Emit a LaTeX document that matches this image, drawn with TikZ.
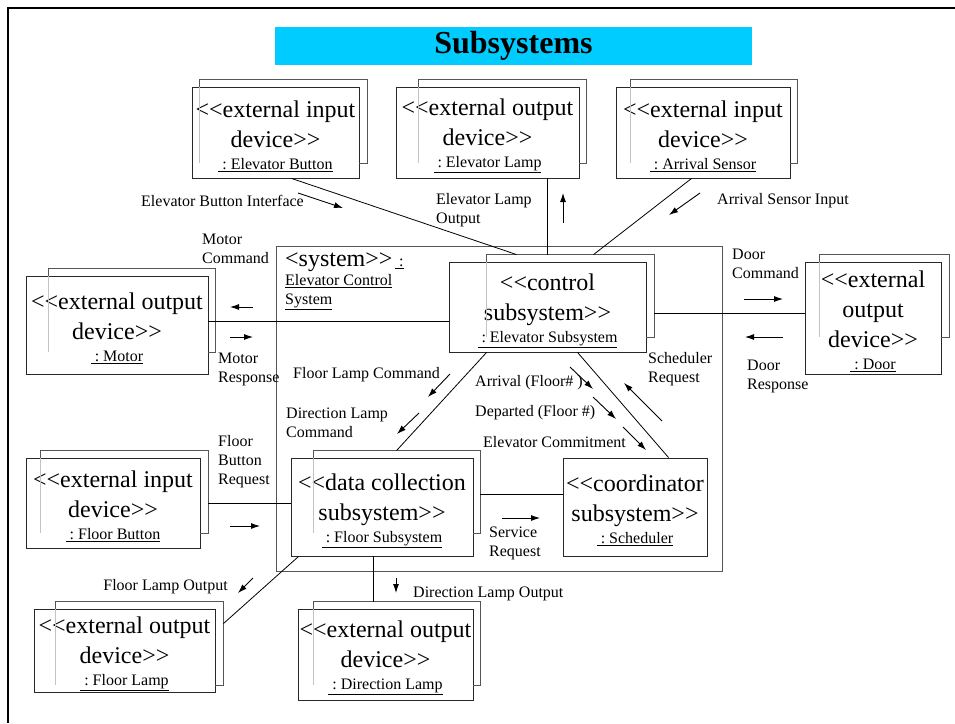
\documentclass[tikz,border=0pt]{standalone}
\usepackage{fontspec}
\setmainfont{Liberation Serif}
\usepackage{tikz}
\usetikzlibrary{arrows.meta, positioning, calc}
\definecolor{mycyan}{RGB}{0,204,255}
\definecolor{mydark}{RGB}{40,40,40}
\definecolor{mygray}{RGB}{85,85,85}
\definecolor{mylight}{RGB}{195,195,195}
\newcommand{\stereoL}{\rule{0pt}{24pt}<{}<}
\newcommand{\stereoR}{>{}>}
\newcommand{\boxfont}{\fontsize{24}{30}\selectfont}
\newcommand{\lblfont}{\fontsize{16}{19}\selectfont}
\newcommand{\objname}[1]{\\[-8pt]{\lblfont\underline{~:~#1}}}
% back sheet of a multi-object box: node, left shift, right shift, bottom lift
\newcommand{\devback}[4]{%
  \draw[backline] ($(#1.north west)+(#2,0)$) -- ($(#1.north west)+(#2,-7)$)
    -- ($(#1.north east)+(#3,-7)$) -- ($(#1.south east)+(#3,-#4)$)
    -- ($(#1.south east)+(0,-#4)$);
  \draw[innerline] ($(#1.north west)+(#2,0)$) -- ($(#1.south west)+(#2,-#4)$);
}
\tikzset{
  dev/.style={rectangle, draw=mydark, line width=0.9pt, align=center,
    inner sep=0pt, font=\boxfont},
  sysbox/.style={rectangle, draw=mygray, line width=0.9pt, inner sep=0pt},
  titlebar/.style={rectangle, fill=mycyan, minimum width=477, minimum height=38,
    font=\fontsize{32}{36}\selectfont\bfseries},
  backline/.style={draw=mygray, line width=0.9pt},
  innerline/.style={draw=mylight, line width=0.6pt},
  link/.style={draw=black, line width=0.8pt},
  sig/.style={-{Latex[length=9pt,width=6pt]}, line width=0.9pt, color=black},
  lbl/.style={inner sep=0pt, align=left, font=\lblfont},
  frame/.style={line width=2.5pt, color=black}
}
\begin{document}
\begin{tikzpicture}[x=1pt, y=-1pt]
  \useasboundingbox (0,0) rectangle (955,723);
  % Frame and title
  \draw[frame] (955,8) -- (8,8) -- (8,723);
  \node[titlebar] (title) at (513.5,46) {Subsystems};

  % System boundary
  \node[sysbox, minimum width=446, minimum height=325] (sys) at (499,408.5) {};
  \node[lbl, anchor=north west] (systag) at (285,253) {{\boxfont <system\stereoR}\,\underline{~:}};
  \node[lbl, anchor=north west] (sysname) at (285,274) {\underline{Elevator Control}\\\underline{System}};

  % Devices and subsystems
  \node[dev, minimum width=167, minimum height=91] (btn) at (275.5,132.5)
    {\stereoL external input\\device\stereoR\objname{Elevator Button}};
  \node[dev, minimum width=183, minimum height=91] (lamp) at (487.5,132.5)
    {\stereoL external output\\device\stereoR\objname{Elevator Lamp}};
  \node[dev, minimum width=174, minimum height=91] (arrsens) at (703,132.5)
    {\stereoL external input\\device\stereoR\objname{Arrival Sensor}};
  \node[dev, minimum width=182, minimum height=98] (motor) at (117,325)
    {\stereoL external output\\device\stereoR\objname{Motor}};
  \node[dev, minimum width=197, minimum height=90] (ctrl) at (547.5,307)
    {\stereoL control\\subsystem\stereoR\objname{Elevator Subsystem}};
  \node[dev, minimum width=136, minimum height=112] (door) at (873,318)
    {\stereoL external\\output\\device\stereoR\objname{Door}};
  \node[dev, minimum width=174, minimum height=90] (fbtn) at (113,503)
    {\stereoL external input\\device\stereoR\objname{Floor Button}};
  \node[dev, minimum width=182, minimum height=98] (data) at (382,507)
    {\stereoL data collection\\subsystem\stereoR\objname{Floor Subsystem}};
  \node[dev, minimum width=144, minimum height=98] (coord) at (635,507)
    {\stereoL coordinator\\subsystem\stereoR\objname{Scheduler}};
  \node[dev, minimum width=181, minimum height=83] (flamp) at (124.5,650.5)
    {\stereoL external output\\device\stereoR\objname{Floor Lamp}};
  \node[dev, minimum width=175, minimum height=91] (dlamp) at (385.5,654.5)
    {\stereoL external output\\device\stereoR\objname{Direction Lamp}};

  % Back sheets
  \devback{btn}{8}{8}{15}
  \devback{lamp}{23}{7}{15}
  \devback{arrsens}{15}{7}{15}
  \devback{motor}{23}{7}{22}
  \devback{ctrl}{38}{8}{15}
  \devback{door}{15}{8}{37}
  \devback{fbtn}{15}{8}{15}
  \devback{data}{23}{7}{23}
  \devback{flamp}{22}{8}{7}
  \devback{dlamp}{16}{7}{15}

  % Links
  \draw[link] ($(btn.south west)+(100,0)$) -- ($(ctrl.north west)+(68,-7)$);
  \draw[link] ($(lamp.south west)+(152,0)$) -- ($(ctrl.north west)+(99,-7)$);
  \draw[link] ($(arrsens.south west)+(76,0)$) -- ($(ctrl.north west)+(145,-7)$);
  \draw[link] ($(motor.north east)+(0,46)$) coordinate (mo) -- (mo -| ctrl.west);
  \draw[link] ($(ctrl.north east)+(8,52)$) coordinate (dr) -- (dr -| door.west);
  \draw[link] ($(fbtn.east)+(8,0)$) coordinate (fb) -- (fb -| data.west);
  \draw[link] ($(ctrl.south west)+(38,0)$) -- ($(data.north west)+(106,-7)$);
  \draw[link] ($(ctrl.south west)+(129,0)$) -- ($(coord.north west)+(106,0)$);
  \draw[link] ($(data.north east)+(7,37)$) coordinate (dc) -- (dc -| coord.west);
  \draw[link] ($(data.south west)+(8,0)$) -- ($(flamp.north east)+(8,15)$);
  \draw[link] ($(data.south west)+(83,0)$) -- ($(dlamp.north west)+(76,-7)$);

  % Message labels
  \node[lbl, anchor=east] (lbif) at (304,201) {Elevator Button Interface};
  \node[lbl, anchor=west] (llout) at (436,210.5) {Elevator Lamp\\Output};
  \node[lbl, anchor=west] (lasin) at (717,201) {Arrival Sensor Input};
  \node[lbl, anchor=west] (lmcmd) at (202,248.5) {Motor\\Command};
  \node[lbl, anchor=west] (lmrsp) at (218,369.5) {Motor\\Response};
  \node[lbl, anchor=west] (lflcmd) at (293,375) {Floor Lamp Command};
  \node[lbl, anchor=west] (ldlcmd) at (286,422.5) {Direction Lamp\\Command};
  \node[lbl, anchor=west] (lfbreq) at (218,461.5) {Floor\\Button\\Request};
  \node[lbl, anchor=west] (larr) at (475,383) {Arrival (Floor\# )};
  \node[lbl, anchor=west] (ldep) at (475,413) {Departed (Floor \#)};
  \node[lbl, anchor=west] (lcommit) at (483,442) {Elevator Commitment};
  \node[lbl, anchor=west] (lsreq) at (648,369.5) {Scheduler\\Request};
  \node[lbl, anchor=west] (ldcmd) at (732,263.5) {Door\\Command};
  \node[lbl, anchor=west] (ldrsp) at (747,376.5) {Door\\Response};
  \node[lbl, anchor=west] (lsvc) at (489,543.5) {Service\\Request};
  \node[lbl, anchor=east] (lflout) at (228,587) {Floor Lamp Output};
  \node[lbl, anchor=west] (ldlout) at (413,594) {Direction Lamp Output};

  % Message arrows
  \draw[sig] (298,193) -- (343,208);
  \draw[sig] (563,223) -- (563,193);
  \draw[sig] (700,193) -- (669,215);
  \draw[sig] (253,307) -- (230,307);
  \draw[sig] (230,337) -- (253,337);
  \draw[sig] (744,299) -- (783,299);
  \draw[sig] (783,337) -- (745,337);
  \draw[sig] (450,374) -- (428,397);
  \draw[sig] (419,413) -- (397,434);
  \draw[sig] (570,367) -- (593,389);
  \draw[sig] (593,397) -- (616,419);
  \draw[sig] (623,427) -- (646,450);
  \draw[sig] (662,421) -- (624,383);
  \draw[sig] (230,526) -- (260,526);
  \draw[sig] (502,518) -- (540,518);
  \draw[sig] (253,578) -- (238,593);
  \draw[sig] (396,578) -- (396,593);
\end{tikzpicture}
\end{document}
